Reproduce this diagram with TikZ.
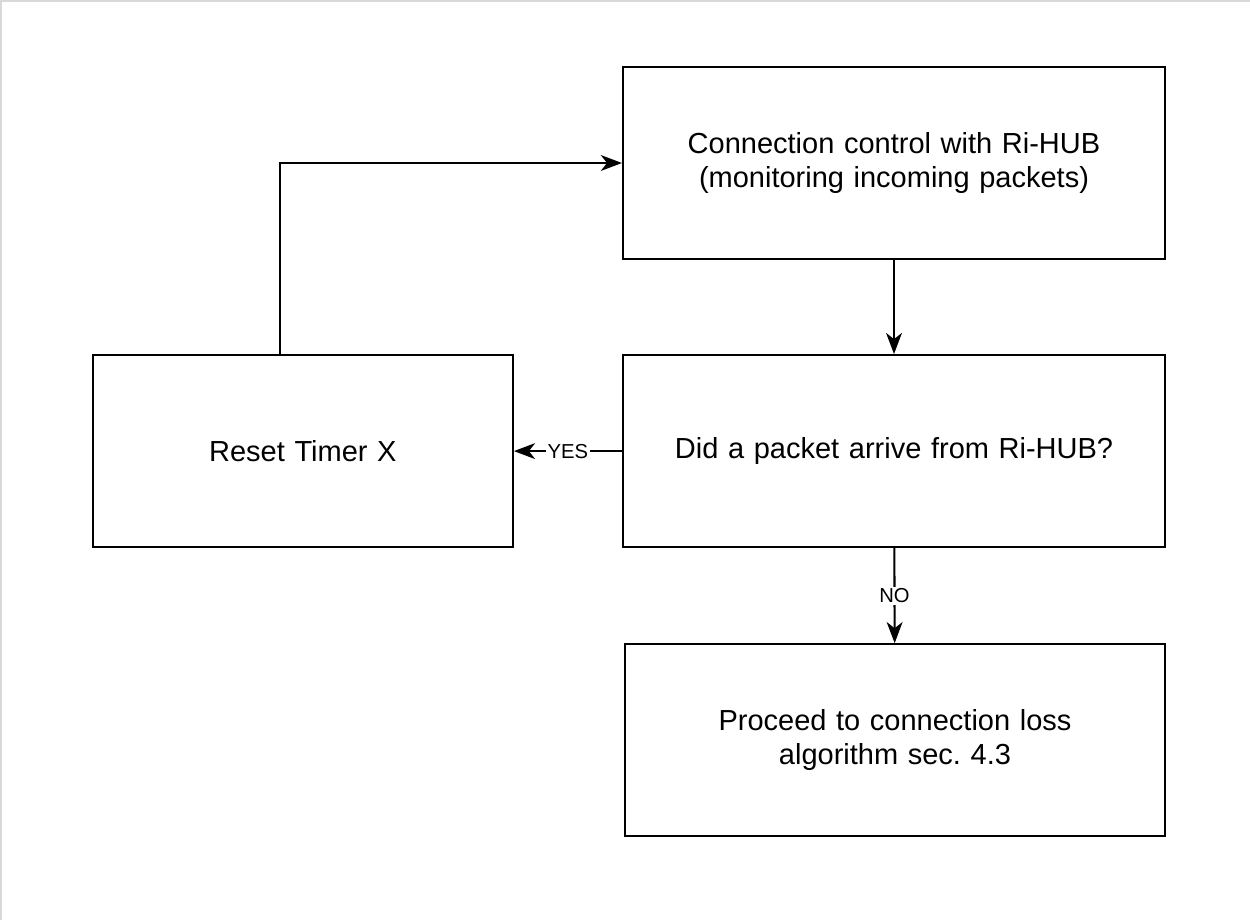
\documentclass[tikz,border=0pt]{standalone}
\usepackage{fontspec}
\setmainfont{Liberation Sans}
\usetikzlibrary{positioning,arrows.meta}

\begin{document}
\begin{tikzpicture}[
        node distance=1.88cm,
        box/.style={rectangle, draw, line width=1.2pt, text width=10cm, align=center,
            minimum width=10.84cm, minimum height=3.84cm, font=\fontsize{16.5}{19.3}\selectfont},
        arrow/.style={-{Stealth[length=12pt,width=9pt,inset=3.5pt]}, line width=1.2pt},
        answer/.style={fill=white, inner sep=1pt, font=\fontsize{11.5}{13}\selectfont}
    ]
        \frenchspacing
        \useasboundingbox (0,0) rectangle (25,-18.4);
        \draw[gray!30, line width=2pt] (0,-18.4) -- (0,0) -- (25,0);

        \node[box] (control) at (17.88,-3.26) {Connection control with Ri-HUB\\(monitoring incoming packets)};
        \node[box, below=of control] (check) {Did a packet arrive from Ri-HUB?};
        \node[box, left=2.16cm of check, minimum width=8.4cm, text width=8cm] (reset) {Reset Timer X};
        \node[box, below=1.9cm of check, xshift=0.02cm, minimum width=10.8cm] (proceed) {Proceed to connection loss\\algorithm sec. 4.3};

        \draw[arrow] (control) -- (check);
        \draw[arrow] (check) -- node[answer] {YES} (reset);
        \draw[arrow] (check) -- node[answer] {NO} (proceed);
        \draw[arrow] ([xshift=-0.46cm]reset.north) |- (control);
    \end{tikzpicture}
\end{document}
